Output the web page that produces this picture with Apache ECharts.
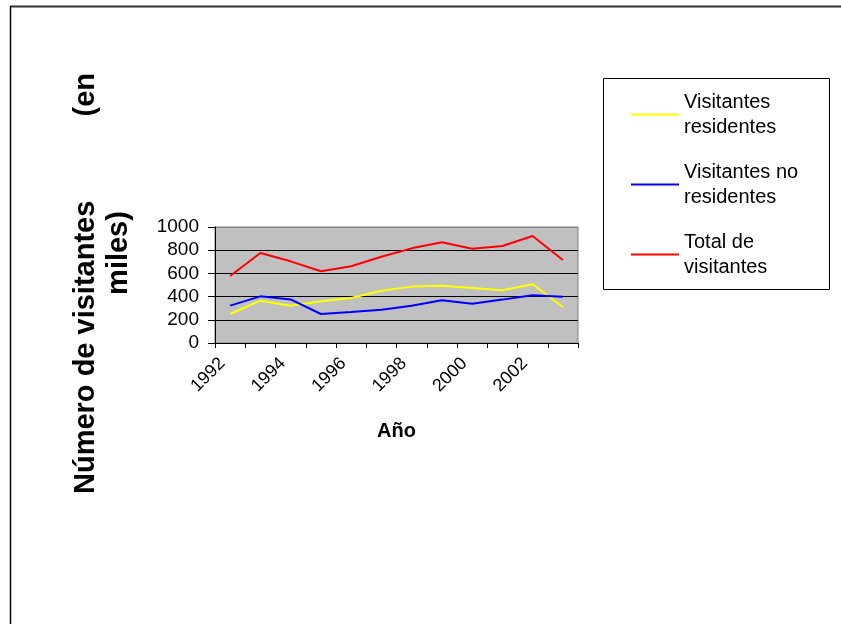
<!DOCTYPE html>
<html>
<head>
<meta charset="utf-8">
<script src="https://cdn.jsdelivr.net/npm/echarts@6/dist/echarts.min.js"></script>
<style>
html,body{margin:0;padding:0;background:#fff;}
#chart{width:841px;height:624px;}
</style>
</head>
<body>
<div id="chart"></div>
<script>
const years = ['1992','1993','1994','1995','1996','1997','1998','1999','2000','2001','2002','2003'];
const residentes = [250, 365, 322, 359, 388, 451, 486, 494, 474, 454, 506, 310];
const noResidentes = [322, 402, 376, 250, 267, 287, 322, 368, 339, 374, 411, 399];
const total = [578, 776, 704, 618, 661, 744, 816, 868, 813, 836, 922, 716];
const seriesNames = ['Visitantes\nresidentes', 'Visitantes no\nresidentes', 'Total de\nvisitantes'];
const seriesColors = ['#ffff00', '#0000ff', '#ff0000'];
const FONT = '"Liberation Sans", Arial, sans-serif';

const chart = echarts.init(document.getElementById('chart'), null, {renderer: 'canvas'});
const valuesList = [residentes, noResidentes, total];

chart.setOption({
  backgroundColor: '#ffffff',
  animation: false,
  textStyle: {fontFamily: FONT},
  grid: {
    left: 215, top: 227, width: 363, height: 116,
    show: true, backgroundColor: '#c0c0c0', borderColor: '#808080', borderWidth: 1,
    containLabel: false
  },
  legend: {
    orient: 'vertical',
    left: 630, top: 77,
    padding: 0,
    itemWidth: 48, itemHeight: 14,
    itemGap: -5,
    selectedMode: false,
    data: seriesNames,
    lineStyle: {width: 2},
    itemStyle: {opacity: 0},
    textStyle: {fontFamily: FONT, fontSize: 20, color: '#000', lineHeight: 25, padding: [25, 0, 0, 0]}
  },
  xAxis: {
    type: 'category',
    data: years,
    boundaryGap: true,
    name: 'Año',
    nameLocation: 'middle',
    nameGap: 78,
    nameTextStyle: {fontFamily: FONT, fontSize: 20, fontWeight: 'bold', color: '#000'},
    axisLine: {show: true, lineStyle: {color: '#000', width: 1}},
    axisTick: {show: true, interval: 0, length: 5, lineStyle: {color: '#000'}},
    axisLabel: {interval: 1, rotate: 45, margin: 10, fontFamily: FONT, fontSize: 18, color: '#000', padding: [0, 11, 0, 0]},
    splitLine: {show: false}
  },
  yAxis: {
    type: 'value',
    min: 0, max: 1000, interval: 200,
    axisLine: {show: true, lineStyle: {color: '#000', width: 1}},
    axisTick: {show: true, length: 7, lineStyle: {color: '#000'}},
    axisLabel: {margin: 16, fontFamily: FONT, fontSize: 19, color: '#000', formatter: v => String(v)},
    splitLine: {show: true, lineStyle: {color: ['#000','#000','#000','#000','#000','#808080'], width: 1}}
  },
  series: seriesNames.map((n, i) => ({
    name: n,
    type: 'line',
    data: valuesList[i],
    showSymbol: false,
    symbol: 'none',
    lineStyle: {color: seriesColors[i], width: 2},
    itemStyle: {color: seriesColors[i]}
  })),
  graphic: [
    {type: 'line', shape: {x1: 10, y1: 6.5, x2: 841, y2: 6.5}, style: {stroke: '#333', lineWidth: 2}, silent: true},
    {type: 'line', shape: {x1: 10.5, y1: 6, x2: 10.5, y2: 624}, style: {stroke: '#000', lineWidth: 1.5}, silent: true},
    {type: 'rect', shape: {x: 603.5, y: 78.5, width: 226, height: 211}, style: {fill: '#fff', stroke: '#000', lineWidth: 1}, z: -1, silent: true},
    {type: 'text', x: 86, y: 494, rotation: Math.PI / 2, style: {text: 'Número de visitantes', font: 'bold 29px ' + FONT, fill: '#000', textAlign: 'left', textVerticalAlign: 'middle'}, silent: true},
    {type: 'text', x: 86, y: 73, rotation: Math.PI / 2, style: {text: '(en', font: 'bold 29px ' + FONT, fill: '#000', textAlign: 'right', textVerticalAlign: 'middle'}, silent: true},
    {type: 'text', x: 119, y: 253, rotation: Math.PI / 2, style: {text: 'miles)', font: 'bold 29px ' + FONT, fill: '#000', textAlign: 'center', textVerticalAlign: 'middle'}, silent: true}
  ]
});
</script>
</body>
</html>
